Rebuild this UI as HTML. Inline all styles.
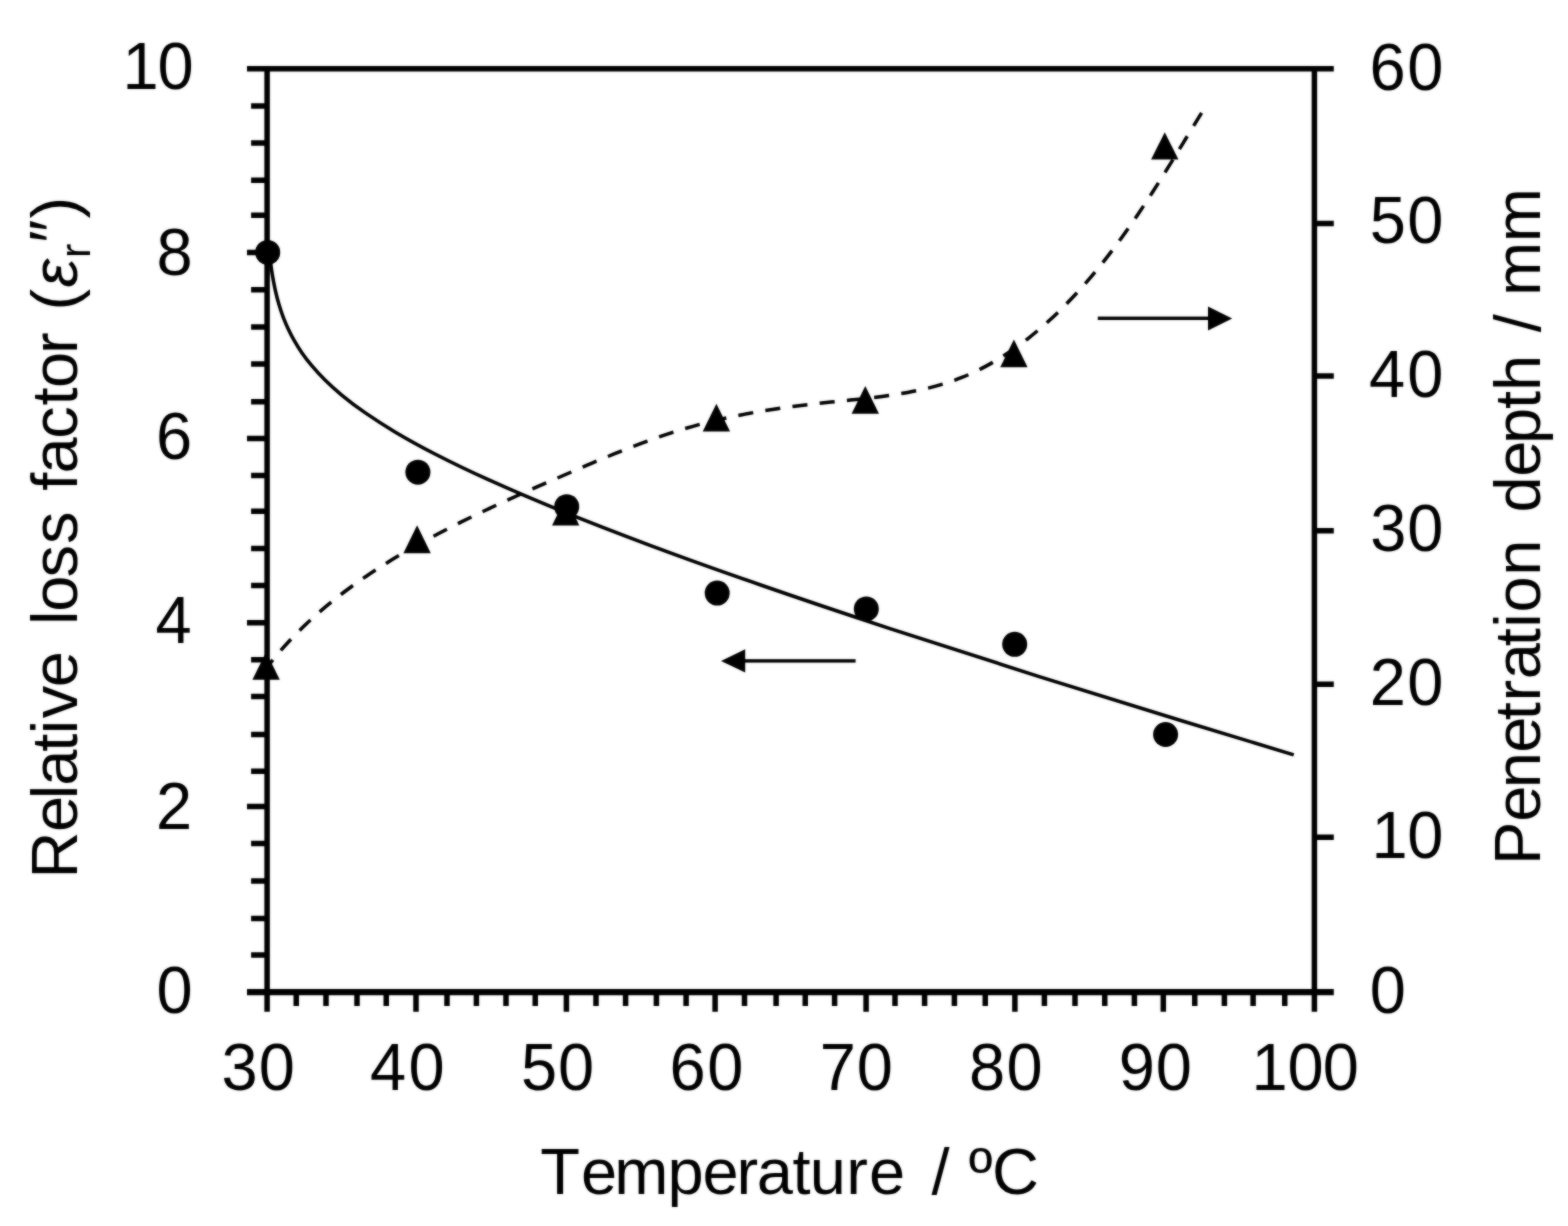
<!DOCTYPE html>
<html lang="en">
<head>
<meta charset="utf-8">
<title>Relative loss factor and penetration depth vs temperature</title>
<style>
html,body{margin:0;padding:0;background:#fff;}
body{width:1568px;height:1226px;overflow:hidden;}
svg{display:block;}
</style>
</head>
<body>
<svg width="1568" height="1226" viewBox="0 0 1568 1226">
<rect width="1568" height="1226" fill="#fff"/>
<defs><filter id="soft" x="0" y="0" width="1568" height="1226" filterUnits="userSpaceOnUse" color-interpolation-filters="sRGB"><feGaussianBlur in="SourceGraphic" stdDeviation="0.8" result="b"/><feComposite in="SourceGraphic" in2="b" operator="arithmetic" k1="0" k2="0.45" k3="0.55" k4="0"/></filter></defs>
<g filter="url(#soft)">
<g stroke="#000" stroke-width="5.5" fill="none" stroke-linecap="butt">
<path d="M267.1 68.7V1011.8"/>
<path d="M1314.4 68.7V1011.8"/>
<path d="M247.0 68.7H1333.8"/>
<path stroke-width="6.1" d="M247.0 992.1H1333.8"/>
<path d="M251.10 106.10H267.1M251.10 143.10H267.1M251.10 180.30H267.1M251.10 215.30H267.1M247.00 252.60H267.1M251.10 289.70H267.1M251.10 326.90H267.1M251.10 364.00H267.1M251.10 401.70H267.1M247.00 438.60H267.1M251.10 475.50H267.1M251.10 511.20H267.1M251.10 548.60H267.1M251.10 585.50H267.1M247.00 622.70H267.1M251.10 659.70H267.1M251.10 696.60H267.1M251.10 734.40H267.1M251.10 771.20H267.1M247.00 806.60H267.1M251.10 843.50H267.1M251.10 881.00H267.1M251.10 918.40H267.1M251.10 955.10H267.1"/>
<path d="M1314.4 223.45H1333.8M1314.4 375.95H1333.8M1314.4 530.70H1333.8M1314.4 684.30H1333.8M1314.4 837.30H1333.8"/>
<path d="M296.25 992.1V1005.9M326.00 992.1V1005.9M357.00 992.1V1005.9M386.25 992.1V1005.9M416.00 992.1V1011.8M447.00 992.1V1005.9M476.40 992.1V1005.9M506.00 992.1V1005.9M535.25 992.1V1005.9M566.40 992.1V1011.8M596.00 992.1V1005.9M625.60 992.1V1005.9M656.40 992.1V1005.9M686.10 992.1V1005.9M715.10 992.1V1011.8M744.50 992.1V1005.9M776.10 992.1V1005.9M805.25 992.1V1005.9M834.60 992.1V1005.9M866.10 992.1V1011.8M895.00 992.1V1005.9M924.60 992.1V1005.9M954.40 992.1V1005.9M985.25 992.1V1005.9M1014.90 992.1V1011.8M1044.40 992.1V1005.9M1075.00 992.1V1005.9M1104.75 992.1V1005.9M1134.40 992.1V1005.9M1163.30 992.1V1011.8M1194.75 992.1V1005.9M1224.40 992.1V1005.9M1253.10 992.1V1005.9M1284.75 992.1V1005.9"/>
</g>
<path d="M269.49 252.50C269.76 255.20 270.03 257.66 270.30 259.95C270.70 263.34 271.10 266.36 271.50 269.14C272.17 273.78 272.83 277.76 273.50 281.35C274.33 285.83 275.17 289.71 276.00 293.23C277.00 297.46 278.00 301.15 279.00 304.53C280.33 309.03 281.67 312.95 283.00 316.53C284.67 321.00 286.33 324.93 288.00 328.53C290.00 332.84 292.00 336.67 294.00 340.20C296.67 344.91 299.33 349.08 302.00 352.91C305.33 357.71 308.67 361.99 312.00 365.95C316.33 371.10 320.67 375.71 325.00 379.99C330.67 385.58 336.33 390.61 342.00 395.29C349.67 401.62 357.33 407.33 365.00 412.66C375.00 419.62 385.00 425.94 395.00 431.89C408.33 439.82 421.67 447.09 435.00 453.97C453.33 463.42 471.67 472.14 490.00 480.45C513.33 491.02 536.67 500.91 560.00 510.40C590.00 522.61 620.00 534.16 650.00 545.32C686.67 558.97 723.33 572.04 760.00 584.77C803.33 599.81 846.67 614.35 890.00 628.59C940.00 645.03 990.00 661.05 1040.00 676.80C1086.67 691.51 1133.33 705.98 1180.00 720.28C1217.92 731.90 1255.83 743.41 1293.75 754.83" fill="none" stroke="#000" stroke-width="3.5"/>
<path d="M267.12 667.00C269.20 664.47 275.31 656.73 279.58 651.79C283.84 646.86 288.23 642.07 292.71 637.39C297.19 632.72 301.78 628.18 306.47 623.76C311.15 619.33 315.93 615.04 320.79 610.84C325.66 606.65 330.61 602.58 335.64 598.60C340.67 594.62 345.78 590.76 350.95 586.98C356.12 583.20 361.37 579.53 366.68 575.94C371.98 572.35 377.35 568.85 382.76 565.43C388.17 562.01 393.65 558.68 399.15 555.41C404.66 552.14 410.21 548.96 415.80 545.83C421.38 542.70 427.00 539.65 432.64 536.65C438.28 533.64 443.95 530.70 449.64 527.81C455.33 524.91 461.03 522.07 466.76 519.27C472.49 516.47 478.23 513.71 484.00 510.99C489.76 508.26 495.55 505.58 501.35 502.91C507.15 500.25 512.97 497.62 518.81 495.00C524.65 492.39 530.51 489.80 536.38 487.21C542.25 484.62 548.14 482.06 554.05 479.49C559.95 476.92 565.88 474.35 571.82 471.79C577.75 469.23 583.71 466.66 589.68 464.13C595.65 461.61 601.64 459.09 607.64 456.62C613.64 454.16 619.66 451.72 625.69 449.35C631.73 446.98 637.78 444.65 643.85 442.41C649.92 440.17 656.00 437.98 662.10 435.91C668.21 433.83 674.32 431.82 680.46 429.94C686.59 428.05 692.75 426.27 698.91 424.60C705.08 422.93 711.27 421.39 717.47 419.93C723.67 418.48 729.89 417.14 736.13 415.87C742.37 414.60 748.62 413.44 754.90 412.34C761.17 411.24 767.46 410.23 773.76 409.27C780.07 408.31 786.40 407.43 792.74 406.59C799.08 405.75 805.44 404.97 811.82 404.22C818.20 403.47 824.60 402.79 831.00 402.10C837.41 401.41 843.85 400.78 850.27 400.10C856.69 399.41 863.13 398.75 869.54 397.99C875.94 397.22 882.34 396.44 888.70 395.52C895.06 394.60 901.40 393.62 907.68 392.45C913.96 391.29 920.20 390.03 926.37 388.54C932.54 387.06 938.66 385.43 944.69 383.54C950.71 381.65 956.67 379.56 962.53 377.20C968.39 374.84 974.16 372.21 979.84 369.38C985.51 366.54 991.09 363.45 996.57 360.18C1002.06 356.91 1007.45 353.41 1012.74 349.75C1018.03 346.10 1023.22 342.24 1028.31 338.26C1033.40 334.27 1038.39 330.10 1043.28 325.83C1048.17 321.56 1052.96 317.14 1057.64 312.64C1062.32 308.14 1066.89 303.51 1071.36 298.82C1075.83 294.13 1080.19 289.35 1084.46 284.51C1088.73 279.68 1092.89 274.76 1096.98 269.79C1101.07 264.82 1105.05 259.77 1108.98 254.69C1112.90 249.60 1116.73 244.45 1120.51 239.26C1124.29 234.07 1127.99 228.83 1131.65 223.55C1135.30 218.28 1138.89 212.96 1142.44 207.62C1146.00 202.27 1149.49 196.89 1152.96 191.50C1156.43 186.10 1159.85 180.68 1163.25 175.25C1166.66 169.82 1170.03 164.36 1173.39 158.91C1176.75 153.46 1180.09 147.99 1183.43 142.54C1186.76 137.08 1190.09 131.62 1193.42 126.17C1196.76 120.73 1201.77 112.59 1203.44 109.87" fill="none" stroke="#000" stroke-width="3.5" stroke-dasharray="15.1 12.3" stroke-dashoffset="5.9"/>
<circle cx="267.7" cy="252.4" r="12.5" fill="#000"/>
<circle cx="417.9" cy="472.2" r="12.5" fill="#000"/>
<circle cx="566.7" cy="506.7" r="12.5" fill="#000"/>
<circle cx="717.2" cy="593.1" r="12.5" fill="#000"/>
<circle cx="866.3" cy="608.9" r="12.5" fill="#000"/>
<circle cx="1014.7" cy="644.3" r="12.5" fill="#000"/>
<circle cx="1165.6" cy="734.5" r="12.5" fill="#000"/>
<path d="M266.1 652.0L279.80 679.7H252.40Z" fill="#000"/>
<path d="M417.1 525.3L430.80 553.3H403.40Z" fill="#000"/>
<path d="M565.7 497.8L579.40 525.6H552.00Z" fill="#000"/>
<path d="M716.4 403.7L730.10 431.6H702.70Z" fill="#000"/>
<path d="M865.3 386.0L879.00 413.8H851.60Z" fill="#000"/>
<path d="M1013.9 339.5L1027.60 367.2H1000.20Z" fill="#000"/>
<path d="M1164.75 132.2L1178.45 159.4H1151.05Z" fill="#000"/>
<g fill="#000" stroke="none">
<rect x="740" y="659.2" width="115.6" height="3.4"/>
<path d="M721.0 660.9L745.2 649.2V672.6Z"/>
<rect x="1097.8" y="316.6" width="112" height="3.4"/>
<path d="M1232.2 318.5L1208 306.5V330.6Z"/>
</g>
<g font-family="'Liberation Sans', sans-serif" font-size="65" fill="#000" style="font-kerning:none">
<text transform="translate(0 89.10) scale(1 1.025)" x="122.40 157.55" y="0">10</text>
<text transform="translate(0 274.55) scale(1 1.025)" x="156.40" y="0">8</text>
<text transform="translate(0 458.60) scale(1 1.025)" x="155.95" y="0">6</text>
<text transform="translate(0 642.60) scale(1 1.025)" x="155.40" y="0">4</text>
<text transform="translate(0 828.65) scale(1 1.025)" x="156.05" y="0">2</text>
<text transform="translate(0 1012.75) scale(1 1.025)" x="156.40" y="0">0</text>
<text transform="translate(0 89.85) scale(1 1.025)" x="1369.50 1407.20" y="0">60</text>
<text transform="translate(0 243.35) scale(1 1.025)" x="1369.85 1407.20" y="0">50</text>
<text transform="translate(0 396.60) scale(1 1.025)" x="1369.00 1407.20" y="0">40</text>
<text transform="translate(0 551.35) scale(1 1.025)" x="1370.30 1407.20" y="0">30</text>
<text transform="translate(0 705.10) scale(1 1.025)" x="1369.80 1407.20" y="0">20</text>
<text transform="translate(0 858.35) scale(1 1.025)" x="1371.40 1407.20" y="0">10</text>
<text transform="translate(0 1012.75) scale(1 1.025)" x="1369.70" y="0">0</text>
<text transform="translate(0 1090.40) scale(1 1.025)" x="221.50 258.80" y="0">30</text>
<text transform="translate(0 1090.40) scale(1 1.025)" x="370.00 408.55" y="0">40</text>
<text transform="translate(0 1090.40) scale(1 1.025)" x="521.10 557.90" y="0">50</text>
<text transform="translate(0 1090.40) scale(1 1.025)" x="669.60 707.20" y="0">60</text>
<text transform="translate(0 1090.40) scale(1 1.025)" x="819.65 856.70" y="0">70</text>
<text transform="translate(0 1090.40) scale(1 1.025)" x="969.05 1006.55" y="0">80</text>
<text transform="translate(0 1090.40) scale(1 1.025)" x="1118.80 1155.70" y="0">90</text>
<text transform="translate(0 1090.40) scale(1 1.025)" x="1251.45 1287.55 1322.80" y="0">100</text>
<text x="540.35 581.10 614.20 667.50 702.60 736.45 756.80 792.40 809.80 846.20 869.00 905.15 931.50 949.56 968.70 991.90" y="1194.4">Temperature / ºC</text>
<text transform="rotate(-90)" y="76.5"><tspan x="-878.50 -831.90 -799.30 -785.70 -751.70 -734.15 -718.25 -687.20 -651.05 -625.00 -611.70 -577.50 -543.95 -511.45 -490.70 -473.45 -438.80 -405.40 -388.00 -353.90 -332.25 -310.55">Relative loss factor (</tspan><tspan font-style="italic" x="-287.55">ε</tspan><tspan font-size="43" x="-258.10" y="90.2">r</tspan><tspan font-style="italic" x="-245.85" y="74.5">″</tspan><tspan x="-218.60" y="76.5">)</tspan></text>
<text transform="rotate(-90)" x="-864.90 -821.80 -788.30 -752.80 -720.30 -701.60 -679.25 -646.20 -627.85 -612.40 -575.70 -539.55 -512.40 -476.70 -443.90 -409.10 -390.90 -354.75 -332.20 -314.14 -295.90 -242.35" y="1539.5">Penetration depth / mm</text>
</g>
</g>
</svg>
</body>
</html>
